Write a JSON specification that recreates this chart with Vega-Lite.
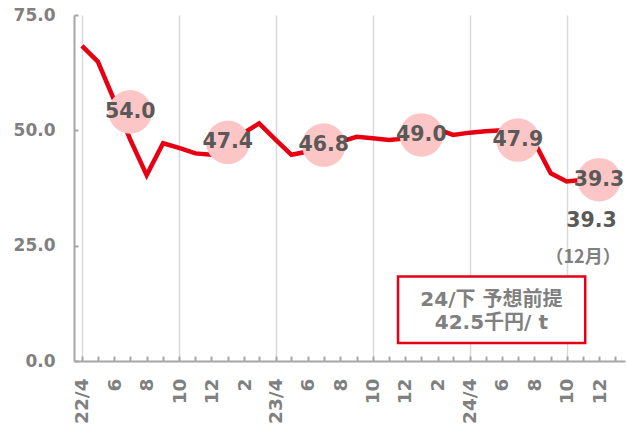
{
  "$schema": "https://vega.github.io/schema/vega-lite/v6.json",
  "width": 551,
  "height": 346,
  "autosize": {"type": "none"},
  "padding": {"left": 74, "top": 15, "right": 3, "bottom": 72},
  "background": "white",
  "config": {"view": {"stroke": null}, "font": "DejaVu Sans, Noto Sans CJK JP"},
  "datasets": {
    "monthly": [
      {"date": "2022-04-01T00:00:00", "value": 68.3},
      {"date": "2022-05-01T00:00:00", "value": 64.9},
      {"date": "2022-06-01T00:00:00", "value": 56.5},
      {"date": "2022-07-01T00:00:00", "value": 48.0},
      {"date": "2022-08-01T00:00:00", "value": 40.3},
      {"date": "2022-09-01T00:00:00", "value": 47.2},
      {"date": "2022-10-01T00:00:00", "value": 46.2},
      {"date": "2022-11-01T00:00:00", "value": 45.0},
      {"date": "2022-12-01T00:00:00", "value": 44.7},
      {"date": "2023-01-01T00:00:00", "value": 47.0},
      {"date": "2023-02-01T00:00:00", "value": 49.5},
      {"date": "2023-03-01T00:00:00", "value": 51.5},
      {"date": "2023-04-01T00:00:00", "value": 48.0},
      {"date": "2023-05-01T00:00:00", "value": 44.7},
      {"date": "2023-06-01T00:00:00", "value": 45.4},
      {"date": "2023-07-01T00:00:00", "value": 46.5},
      {"date": "2023-08-01T00:00:00", "value": 47.5},
      {"date": "2023-09-01T00:00:00", "value": 48.6},
      {"date": "2023-10-01T00:00:00", "value": 48.3},
      {"date": "2023-11-01T00:00:00", "value": 47.9},
      {"date": "2023-12-01T00:00:00", "value": 48.2},
      {"date": "2024-01-01T00:00:00", "value": 49.0},
      {"date": "2024-02-01T00:00:00", "value": 50.2},
      {"date": "2024-03-01T00:00:00", "value": 49.0},
      {"date": "2024-04-01T00:00:00", "value": 49.5},
      {"date": "2024-05-01T00:00:00", "value": 49.8},
      {"date": "2024-06-01T00:00:00", "value": 50.0},
      {"date": "2024-07-01T00:00:00", "value": 49.5},
      {"date": "2024-08-01T00:00:00", "value": 47.5},
      {"date": "2024-09-01T00:00:00", "value": 40.7},
      {"date": "2024-10-01T00:00:00", "value": 38.9},
      {"date": "2024-11-01T00:00:00", "value": 39.3},
      {"date": "2024-12-01T00:00:00", "value": 39.3}
    ],
    "halfyear": [
      {"date": "2022-07-01T00:00:00", "value": 54.0},
      {"date": "2023-01-01T00:00:00", "value": 47.4},
      {"date": "2023-07-01T00:00:00", "value": 46.8},
      {"date": "2024-01-01T00:00:00", "value": 49.0},
      {"date": "2024-07-01T00:00:00", "value": 47.9},
      {"date": "2024-12-01T00:00:00", "value": 39.3}
    ]
  },
  "layer": [
    {
      "data": {"name": "monthly"},
      "mark": {"type": "line", "color": "#e60012", "strokeWidth": 4.5},
      "encoding": {
        "x": {
          "field": "date",
          "type": "temporal",
          "scale": {"domain": [{"year": 2022, "month": 3, "date": 17}, {"year": 2025, "month": 1, "date": 19}], "nice": false},
          "axis": {
            "title": null,
            "tickCount": {"interval": "month", "step": 1},
            "labelExpr": "month(datum.value)==3 ? timeFormat(datum.value, '%y/%-m') : (month(datum.value)%2==1 ? timeFormat(datum.value, '%-m') : '')",
            "labelAngle": 270,
            "labelFontSize": 18.5,
            "labelFontWeight": "bold",
            "labelColor": "#808080",
            "labelPadding": 22,
            "labelOverlap": false,
            "labelFlush": false,
            "labelBound": false,
            "domainColor": "#a6a6a6",
            "domainWidth": 2,
            "tickColor": "#a6a6a6",
            "tickWidth": 2,
            "tickSize": -5,
            "grid": true,
            "gridColor": "#d9d9d9",
            "gridWidth": 1.5,
            "gridOpacity": {"condition": {"test": "month(datum.value)==3 || month(datum.value)==9", "value": 1}, "value": 0}
          }
        },
        "y": {
          "field": "value",
          "type": "quantitative",
          "scale": {"domain": [0, 75], "nice": false},
          "axis": {
            "title": null,
            "values": [0, 25, 50, 75],
            "format": ".1f",
            "labelFontSize": 17,
            "labelFontWeight": "bold",
            "labelColor": "#808080",
            "labelPadding": 23,
            "domainColor": "#a6a6a6",
            "domainWidth": 2,
            "tickColor": "#a6a6a6",
            "tickWidth": 2,
            "tickSize": -4,
            "grid": false
          }
        }
      }
    },
    {
      "data": {"name": "halfyear"},
      "mark": {"type": "circle", "size": 1900, "color": "#fdc6c6", "opacity": 1},
      "encoding": {
        "x": {"field": "date", "type": "temporal"},
        "y": {"field": "value", "type": "quantitative"}
      }
    },
    {
      "data": {"name": "halfyear"},
      "mark": {"type": "text", "fontSize": 20.5, "fontWeight": "bold", "color": "#595959"},
      "encoding": {
        "x": {"field": "date", "type": "temporal"},
        "y": {"field": "value", "type": "quantitative"},
        "text": {"field": "value", "type": "quantitative", "format": ".1f"}
      }
    },
    {
      "data": {"values": [{}]},
      "mark": {"type": "text", "text": "39.3", "fontSize": 20.5, "fontWeight": "bold", "color": "#595959"},
      "encoding": {
        "x": {"datum": {"year": 2024, "month": 11, "date": 17}, "type": "temporal"},
        "y": {"datum": 30.3}
      }
    },
    {
      "data": {"values": [{}]},
      "mark": {"type": "text", "text": "（12月）", "font": "Noto Sans CJK SC", "fontSize": 18, "fontWeight": "bold", "color": "#808080"},
      "encoding": {
        "x": {"datum": {"year": 2024, "month": 11, "date": 1}, "type": "temporal"},
        "y": {"datum": 22.3}
      }
    },
    {
      "data": {"values": [{}]},
      "mark": {"type": "rect", "fill": "white", "stroke": "#e60012", "strokeWidth": 2.5},
      "encoding": {
        "x": {"datum": {"year": 2023, "month": 11, "date": 18}, "type": "temporal"},
        "x2": {"datum": {"year": 2024, "month": 11, "date": 5}},
        "y": {"datum": 18.3},
        "y2": {"datum": 3.9}
      }
    },
    {
      "data": {"values": [{}]},
      "mark": {"type": "text", "text": ["24/下 予想前提", "42.5千円/ t"], "lineHeight": 23.5, "fontSize": 20, "fontWeight": "bold", "color": "#808080"},
      "encoding": {
        "x": {"datum": {"year": 2024, "month": 5, "date": 12}, "type": "temporal"},
        "y": {"datum": 13.3}
      }
    }
  ]
}
